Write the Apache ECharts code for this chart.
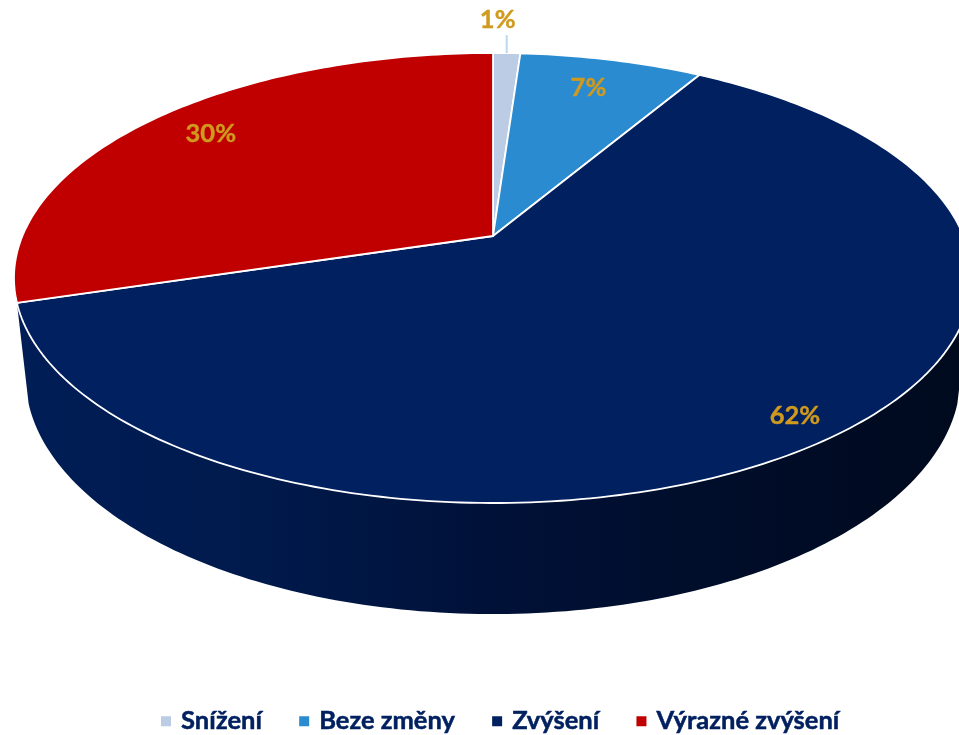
<!DOCTYPE html>
<html><head><meta charset="utf-8">
<style>html,body{margin:0;padding:0;background:#fff;overflow:hidden}#c{width:959px;height:735px}</style>
<script src="https://cdn.jsdelivr.net/npm/echarts@6/dist/echarts.min.js"></script>
</head><body><div id="c"></div>
<script>
const categories = ['Snížení', 'Beze změny', 'Zvýšení', 'Výrazné zvýšení'];
const shares = [1.1, 7.4, 61.8, 29.7];
const colors = ['#BBCCE4', '#2B8BD1', '#002060', '#C00000'];

// perspective projection of the pie disc
const CX = 493, P = {a: 173.1, b: 236, c: -0.1867, d: 470.6, e: 0.02385, vy: 4400};
const FRONT = [0.297, 0.703];
const LABEL_R = [1, 0.824, 0.909, 0.874];
const LABEL_NUDGE = [[-9, -33], [-5, 1], [-3, 1], [19, 1]];
const GOLD = '#CF9A1E';
const total = shares.reduce((s, x) => s + x, 0);
const starts = shares.map((_, i) => shares.slice(0, i).reduce((s, x) => s + x, 0));

function proj(f, r, lower) {
  const t = 2 * Math.PI * f, u = r * Math.sin(t), v = -r * Math.cos(t);
  const k = lower ? P.e : 0, w = 1 + P.c * v + k;
  return [CX + P.d * u / w, (P.a * v + P.b + k * P.vy) / w];
}
function arc(f0, f1, lower) {
  const n = Math.max(2, Math.ceil(Math.abs(f1 - f0) * 360)), pts = [];
  for (let i = 0; i <= n; i++) pts.push(proj(f0 + (f1 - f0) * i / n, 1, lower));
  return pts;
}
function renderItem(params, api) {
  const i = params.seriesIndex;
  const f0 = api.value(1) / total, f1 = (api.value(1) + api.value(0)) / total;
  const kids = [];
  const s0 = Math.max(f0, FRONT[0]), s1 = Math.min(f1, FRONT[1]);
  if (s1 > s0) {
    kids.push({type: 'polygon', z2: 1,
      shape: {points: arc(s0, s1, false).concat(arc(s1, s0, true))},
      style: {fill: new echarts.graphic.LinearGradient(0, 0, 1, 0, [
        {offset: 0, color: '#001D56'}, {offset: 0.25, color: '#001A4C'},
        {offset: 0.5, color: '#001138'}, {offset: 0.75, color: '#000D29'},
        {offset: 1, color: '#000A1E'}]), stroke: null}});
  }
  kids.push({type: 'polygon', z2: 2,
    shape: {points: [proj(0, 0, false)].concat(arc(f0, f1, false))},
    style: {fill: colors[i], stroke: '#fff', lineWidth: 1.8, lineJoin: 'round'}});
  const mid = (f0 + f1) / 2, anchor = proj(mid, LABEL_R[i], false);
  if (i === 0) {
    kids.push({type: 'line', z2: 3,
      shape: {x1: anchor[0], y1: anchor[1], x2: anchor[0], y2: anchor[1] - 18},
      style: {stroke: '#BDD7EE', lineWidth: 2}});
  }
  kids.push({type: 'text', z2: 4, style: {
    text: Math.round(api.value(0)) + '%',
    x: anchor[0] + LABEL_NUDGE[i][0], y: anchor[1] + LABEL_NUDGE[i][1],
    fill: GOLD, font: 'bold 25.5px Lato', align: 'center', verticalAlign: 'middle',
    stroke: GOLD, lineWidth: 0.4}});
  return {type: 'group', children: kids};
}
const chart = echarts.init(document.getElementById('c'), null, {renderer: 'canvas'});
chart.setOption({
  backgroundColor: '#fff',
  animation: false,
  tooltip: {show: false},
  legend: {
    data: categories, left: 156, top: 703,
    icon: 'rect', itemWidth: 10, itemHeight: 10, itemGap: 37,
    textStyle: {color: '#002060', fontFamily: 'Lato', fontWeight: 'bold', fontSize: 25.5,
      padding: [0, 0, 0, 5], textBorderColor: '#002060', textBorderWidth: 0.5}
  },
  series: categories.map((name, i) => ({
    type: 'custom', name, coordinateSystem: 'none',
    itemStyle: {color: colors[i]},
    clip: false, silent: true,
    data: [[shares[i], starts[i]]],
    renderItem
  }))
});
</script></body></html>
